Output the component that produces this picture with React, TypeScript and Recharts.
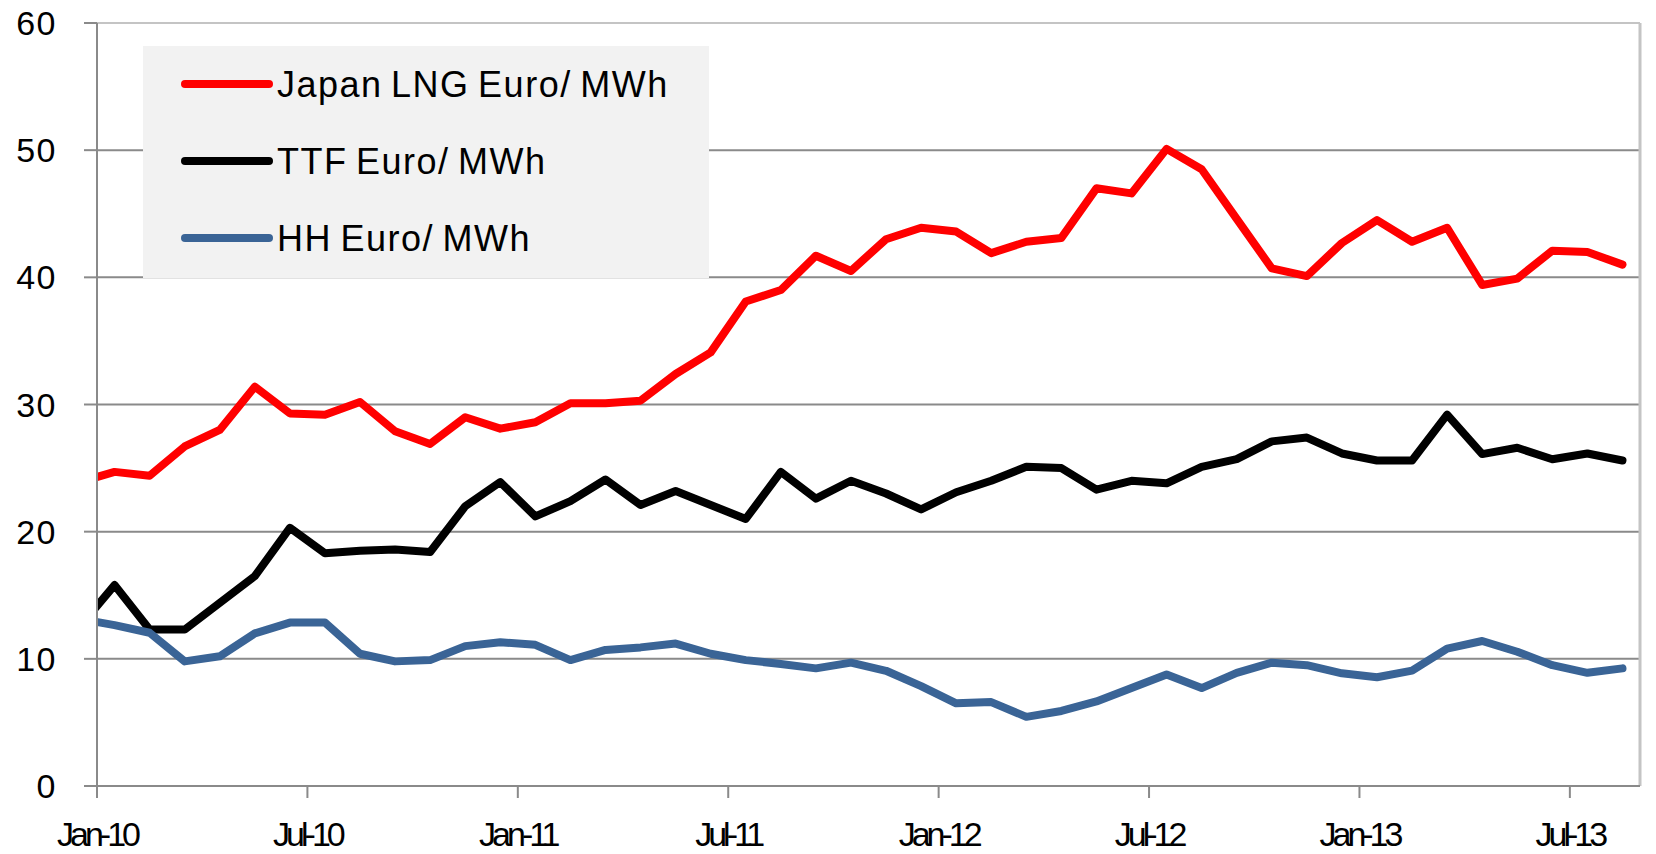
import React from "react";
import { LineChart, Line, XAxis, YAxis, CartesianGrid, Legend, ReferenceLine } from "recharts";

const months = [
  "Dec-09",
  "Jan-10", "Feb-10", "Mar-10", "Apr-10", "May-10", "Jun-10", "Jul-10", "Aug-10", "Sep-10", "Oct-10", "Nov-10", "Dec-10",
  "Jan-11", "Feb-11", "Mar-11", "Apr-11", "May-11", "Jun-11", "Jul-11", "Aug-11", "Sep-11", "Oct-11", "Nov-11", "Dec-11",
  "Jan-12", "Feb-12", "Mar-12", "Apr-12", "May-12", "Jun-12", "Jul-12", "Aug-12", "Sep-12", "Oct-12", "Nov-12", "Dec-12",
  "Jan-13", "Feb-13", "Mar-13", "Apr-13", "May-13", "Jun-13", "Jul-13", "Aug-13",
];

const japanLng = [
  23.9, 24.7, 24.4, 26.7, 28.0, 31.4, 29.3, 29.2, 30.2, 27.9, 26.9, 29.0, 28.1,
  28.6, 30.1, 30.1, 30.3, 32.4, 34.1, 38.1, 39.0, 41.7, 40.5, 43.0, 43.9,
  43.6, 41.9, 42.8, 43.1, 47.0, 46.6, 50.1, 48.5, 44.6, 40.7, 40.1, 42.7,
  44.5, 42.8, 43.9, 39.4, 39.9, 42.1, 42.0, 41.0,
];

const ttf = [
  12.5, 15.8, 12.3, 12.3, 14.4, 16.5, 20.3, 18.3, 18.5, 18.6, 18.4, 22.0, 23.9,
  21.2, 22.4, 24.1, 22.1, 23.2, 22.1, 21.0, 24.7, 22.6, 24.0, 23.0, 21.75,
  23.1, 24.0, 25.1, 25.0, 23.3, 24.0, 23.8, 25.1, 25.7, 27.1, 27.4, 26.15,
  25.6, 25.6, 29.2, 26.1, 26.6, 25.7, 26.15, 25.6,
];

const hh = [
  13.15, 12.65, 12.05, 9.8, 10.2, 12.0, 12.85, 12.85, 10.4, 9.8, 9.9, 11.0, 11.3,
  11.1, 9.9, 10.7, 10.9, 11.2, 10.4, 9.9, 9.6, 9.25, 9.7, 9.06, 7.85,
  6.5, 6.6, 5.44, 5.9, 6.65, 7.7, 8.76, 7.7, 8.9, 9.7, 9.5, 8.86,
  8.55, 9.07, 10.8, 11.4, 10.56, 9.5, 8.9, 9.25,
];

const tickLabels = ["Jan-10", "Jul-10", "Jan-11", "Jul-11", "Jan-12", "Jul-12", "Jan-13", "Jul-13"];
const yTicks = [0, 10, 20, 30, 40, 50, 60];

const seriesNames = ["Japan LNG Euro/ MWh", "TTF Euro/ MWh", "HH Euro/ MWh"];
const seriesColors = ["#ff0000", "#000000", "#3a6496"];

// month index relative to Jan-10; points sit mid-month
const firstMonth = months.indexOf("Jan-10");
const data = months.map((m, i) => ({
  t: i - firstMonth + 0.5,
  month: m,
  japan: japanLng[i],
  ttf: ttf[i],
  hh: hh[i],
}));
const tickPositions = tickLabels.map((l) => months.indexOf(l) - firstMonth);
const tickFmt = (v: number) => tickLabels[tickPositions.indexOf(v)] ?? "";

const FONT = "'Liberation Sans', Arial, sans-serif";

const LegendBox = (props: any) => {
  const payload = [...(props.payload || [])].sort(
    (a: any, b: any) => seriesNames.indexOf(a.value) - seriesNames.indexOf(b.value)
  );
  return (
    <svg width={566} height={232} style={{ display: "block" }}>
      <rect x={0} y={0} width={566} height={232} fill="#f2f2f2" />
      {payload.map((p: any, i: number) => (
        <g key={i}>
          <line x1={42} x2={126} y1={38 + i * 77} y2={38 + i * 77} stroke={p.color} strokeWidth={8} strokeLinecap="round" />
          <text
            x={134}
            y={38 + i * 77}
            dy="0.36em"
            fontFamily={FONT}
            fontSize={36}
            letterSpacing={1.5}
            wordSpacing={-3}
            fill="#000"
          >
            {p.value}
          </text>
        </g>
      ))}
    </svg>
  );
};

export default function App() {
  return (
    <div style={{ width: 1640, height: 846 }}>
      <LineChart width={1640} height={846} data={data} margin={{ top: 15, right: 8, bottom: 0, left: 0 }}>
        <CartesianGrid horizontal={true} vertical={false} stroke="#8a8a8a" strokeWidth={2} />
        <ReferenceLine y={60} stroke="#c4c4c4" strokeWidth={2} />
        <ReferenceLine x={44} stroke="#c4c4c4" strokeWidth={3} />
        <XAxis
          dataKey="t"
          type="number"
          domain={[0, 44]}
          allowDataOverflow={true}
          ticks={tickPositions}
          tickFormatter={tickFmt}
          interval={0}
          height={68}
          tickSize={12}
          tickMargin={24}
          stroke="#8a8a8a"
          strokeWidth={2}
          tick={{ fill: "#000", fontSize: 34, fontFamily: FONT, letterSpacing: -4 }}
        />
        <YAxis
          domain={[0, 60]}
          ticks={yTicks}
          interval={0}
          width={89}
          tickSize={13}
          tickMargin={27}
          stroke="#8a8a8a"
          strokeWidth={2}
          tick={{ fill: "#000", fontSize: 34, fontFamily: FONT, letterSpacing: 1.5 }}
        />
        <Legend
          layout="horizontal"
          align="center"
          verticalAlign="middle"
          wrapperStyle={{ left: 135, top: 38, width: 566, height: 232 }}
          content={LegendBox}
        />
        <Line dataKey="japan" name={seriesNames[0]} stroke={seriesColors[0]} strokeWidth={8} dot={false} activeDot={false} isAnimationActive={false} strokeLinecap="round" strokeLinejoin="round" />
        <Line dataKey="ttf" name={seriesNames[1]} stroke={seriesColors[1]} strokeWidth={8} dot={false} activeDot={false} isAnimationActive={false} strokeLinecap="round" strokeLinejoin="round" />
        <Line dataKey="hh" name={seriesNames[2]} stroke={seriesColors[2]} strokeWidth={8} dot={false} activeDot={false} isAnimationActive={false} strokeLinecap="round" strokeLinejoin="round" />
      </LineChart>
    </div>
  );
}
